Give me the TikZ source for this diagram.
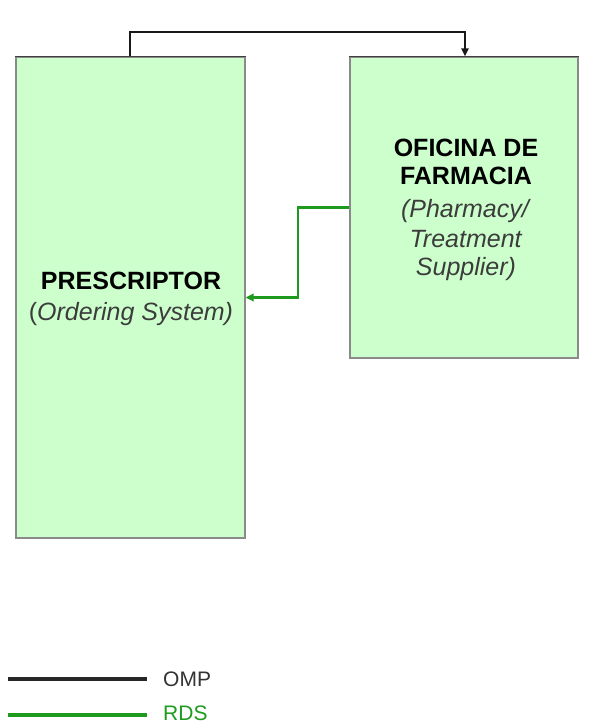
\documentclass[tikz,border=0pt]{standalone}
\usepackage{fontspec}
\setmainfont{Liberation Sans}
\usetikzlibrary{arrows.meta}
\definecolor{boxfill}{HTML}{CCFFCC}
\definecolor{boxline}{HTML}{8A8A8A}
\definecolor{rdsgreen}{HTML}{1E9A1E}
\definecolor{subtext}{HTML}{3C3C3C}
\tikzset{
  sysbox/.style={draw=boxline, line width=1.2pt, fill=boxfill, rectangle, inner sep=0pt, align=center, font=\fontsize{25}{30}\selectfont},
  omp/.style={draw=black!90, line width=2.6pt, -{Triangle[length=8pt,width=7pt]}},
  rds/.style={draw=rdsgreen, line width=2.8pt, -{Triangle[length=8pt,width=7.5pt]}},
  legline/.style={line width=3.2pt},
  legtext/.style={anchor=west, inner sep=0pt, font=\fontsize{21}{24}\selectfont}
}
\begin{document}
\begin{tikzpicture}[x=1pt, y=-1pt]
\useasboundingbox (0,0) rectangle (591,724);
% boxes
\node[sysbox, minimum width=229pt, minimum height=481pt] (lbox) at (130.5,297.5) {};
\node[sysbox, minimum width=228pt, minimum height=301pt] (rbox) at (464,207.5) {};
\draw[black!75, line width=1.5pt] (lbox.north west) -- (lbox.north east);
\draw[black!75, line width=1.5pt] (rbox.north west) -- (rbox.north east);
% labels
\node[align=center, font=\fontsize{25}{31}\selectfont] (ltext) at (131,299)
  {\textbf{PRESCRIPTOR}\\{\color{subtext}(\textit{Ordering System)}}};
\node[align=center, font=\fontsize{25}{30}\selectfont] (rtext) at (466,210)
  {\textbf{OFICINA DE}\\[-2pt]\textbf{FARMACIA}\\[3pt]{\color{subtext}\textit{(Pharmacy/}}\\{\color{subtext}\textit{Treatment}}\\[-2pt]{\color{subtext}\textit{Supplier)}}};
% connectors
\coordinate (topL) at (130,32);
\coordinate (topR) at (465,32);
\draw[omp] (lbox.north -| topL) -- (topL) -- (topR) -- (rbox.north -| topR);
\coordinate (bend) at (298,297.5);
\draw[rds] (rbox.west) -| (bend) -- (lbox.east);
% legend
\coordinate (o1) at (8,679);
\coordinate (o2) at (147,679);
\coordinate (g1) at (8,715);
\coordinate (g2) at (147,715);
\draw[legline, black!85] (o1) -- (o2);
\draw[legline, rdsgreen] (g1) -- (g2);
\node[legtext, text=black!80] (omplabel) at (163,679) {OMP};
\node[legtext, text=rdsgreen] (rdslabel) at (163,713.5) {RDS};
\end{tikzpicture}
\end{document}
